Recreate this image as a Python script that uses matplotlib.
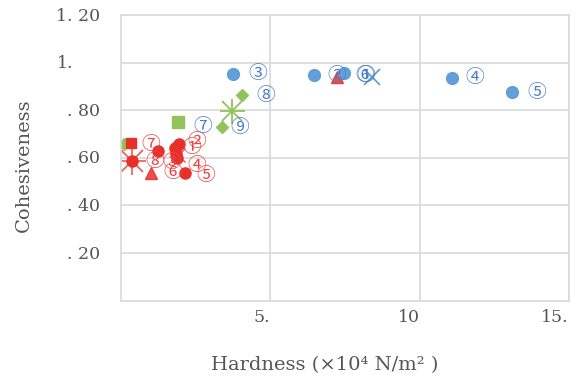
import matplotlib
matplotlib.use("Agg")
import matplotlib.pyplot as plt
from matplotlib import transforms

# ---- data -------------------------------------------------------------
blue_circle_x = [7.45, 6.45, 3.75, 11.07, 13.10]
blue_circle_y = [0.958, 0.946, 0.954, 0.937, 0.877]
blue_circle_lab = ["①", "②", "③", "④", "⑤"]

blue_x_x = [8.39]
blue_x_y = [0.941]
blue_x_lab = ["⑥"]

red_circle_x = [1.94, 1.80, 1.84, 1.88, 2.14, 1.24, 0.37]
red_circle_y = [0.657, 0.640, 0.615, 0.600, 0.534, 0.628, 0.585]
red_circle_lab = ["①", "②", "③", "④", "⑤", "⑦", "⑧"]

red_tri_x = [1.00, 7.22]
red_tri_y = [0.538, 0.940]
red_tri_lab = ["⑥", ""]

red_sq_x = [0.33]
red_sq_y = [0.662]

red_star_x = [0.37, 1.90]
red_star_y = [0.585, 0.612]

green_sq_x = [1.90]
green_sq_y = [0.750]
green_sq_lab = ["⑦"]

green_dia_x = [0.10, 4.05, 3.38]
green_dia_y = [0.657, 0.865, 0.729]
green_dia_lab = ["", "⑧", "⑨"]

green_star_x = [3.71]
green_star_y = [0.797]

x_ticks = [5, 10, 15]
x_tick_labels = ["5.", "10", "15."]
y_ticks = [1.2, 1.0, 0.8, 0.6, 0.4, 0.2]
y_tick_labels = ["1. 20", "1.", ". 80", ". 60", ". 40", ". 20"]

# ---- style ------------------------------------------------------------
BLUE = "#5B9BD5"
BLUE_TXT = "#4A7CC9"
RED = "#E8302A"
RED_TXT = "#F04040"
GREEN = "#92C25A"
GRID = "#D9D9D9"
TXT = "#555555"
SERIF = ["DejaVu Serif"]
CIRC = ["Noto Sans CJK JP", "DejaVu Sans"]

fig = plt.figure(figsize=(5.81, 3.79), dpi=100)
ax = fig.add_axes([121 / 581, 1 - 300.5 / 379, 448 / 581, 285.5 / 379])
ax.set_xlim(0, 15)
ax.set_ylim(0, 1.2)

for s in ax.spines.values():
    s.set_color(GRID)
    s.set_linewidth(1.2)
ax.set_xticks(x_ticks)
ax.set_yticks(y_ticks)
ax.grid(True, color=GRID, linewidth=1.2)
ax.set_axisbelow(True)
ax.tick_params(length=0, labelleft=False, labelbottom=False)

# tick labels
for v, t in zip(x_ticks, x_tick_labels):
    ax.text(v, -0.07, t, ha="right", va="center", fontsize=12.5,
            color=TXT, family=SERIF)
ytr = transforms.blended_transform_factory(fig.transFigure, ax.transData)
for v, t in zip(y_ticks, y_tick_labels):
    if t == "1.":
        ax.text(57 / 581, v - 0.005, t, ha="left", va="center", fontsize=12.5,
                color=TXT, family=SERIF, transform=ytr)
    else:
        ax.text(100 / 581, v - 0.005, t, ha="right", va="center",
                fontsize=12.5, color=TXT, family=SERIF, transform=ytr)

fig.text(325 / 581, 1 - 365 / 379, "Hardness (×10⁴ N/m² )", ha="center",
         va="center", fontsize=14, color=TXT, family=SERIF)
fig.text(24 / 581, 1 - 165 / 379, "Cohesiveness", ha="center", va="center",
         rotation=90, fontsize=14, color=TXT, family=SERIF)


def labels(xs, ys, labs, color, offsets):
    for x, y, lab, off in zip(xs, ys, labs, offsets):
        if lab:
            ax.annotate(lab, (x, y), xytext=off, textcoords="offset pixels",
                        ha="center", va="center", fontsize=13.5, color=color,
                        family=CIRC)


# green series
ax.plot(green_sq_x, green_sq_y, "s", ms=8.5, color=GREEN, ls="none")
ax.plot(green_dia_x, green_dia_y, "D", ms=6.5, color=GREEN, ls="none")
ax.plot(green_star_x, green_star_y, "x", ms=14, mew=1.3, color=GREEN, ls="none")
ax.plot(green_star_x, green_star_y, "+", ms=18, mew=1.3, color=GREEN, ls="none")

# red series
ax.plot(red_sq_x, red_sq_y, "s", ms=7.5, color=RED, ls="none")
ax.plot(red_tri_x, red_tri_y, "^", ms=8.5, color=RED, alpha=0.85, ls="none")
ax.plot(red_circle_x, red_circle_y, "o", ms=8, color=RED, ls="none")
ax.plot(red_star_x[:1], red_star_y[:1], "x", ms=16, mew=1.2, color=RED,
        alpha=0.8, ls="none")
ax.plot(red_star_x[:1], red_star_y[:1], "+", ms=20, mew=1.2, color=RED,
        alpha=0.8, ls="none")
ax.plot(red_star_x[1:], red_star_y[1:], "x", ms=10, mew=1.0, color=RED,
        alpha=0.8, ls="none")

# blue series
ax.plot(blue_circle_x, blue_circle_y, "o", ms=8.5, color=BLUE, alpha=0.95,
        ls="none")
ax.plot(blue_x_x, blue_x_y, "x", ms=12, mew=1.2, color=BLUE, ls="none")

labels(red_circle_x, red_circle_y, red_circle_lab, RED_TXT,
       [(13, -3), (22, 7), (-4, -8), (20, -8), (21, -2), (-7, 7), (23, 0)])
labels(red_tri_x, red_tri_y, red_tri_lab, RED_TXT, [(22, 0), (0, 0)])
labels(blue_circle_x, blue_circle_y, blue_circle_lab, BLUE_TXT,
       [(22, -3), (23, 0), (25, 0), (23, 0), (24, -1)])
labels(blue_x_x, blue_x_y, blue_x_lab, BLUE_TXT, [(-7, 1)])
labels(green_sq_x, green_sq_y, green_sq_lab, BLUE_TXT, [(25, -4)])
labels(green_dia_x, green_dia_y, green_dia_lab, BLUE_TXT,
       [(0, 0), (24, -1), (18, 0)])

fig.savefig("out.png", dpi=100)
